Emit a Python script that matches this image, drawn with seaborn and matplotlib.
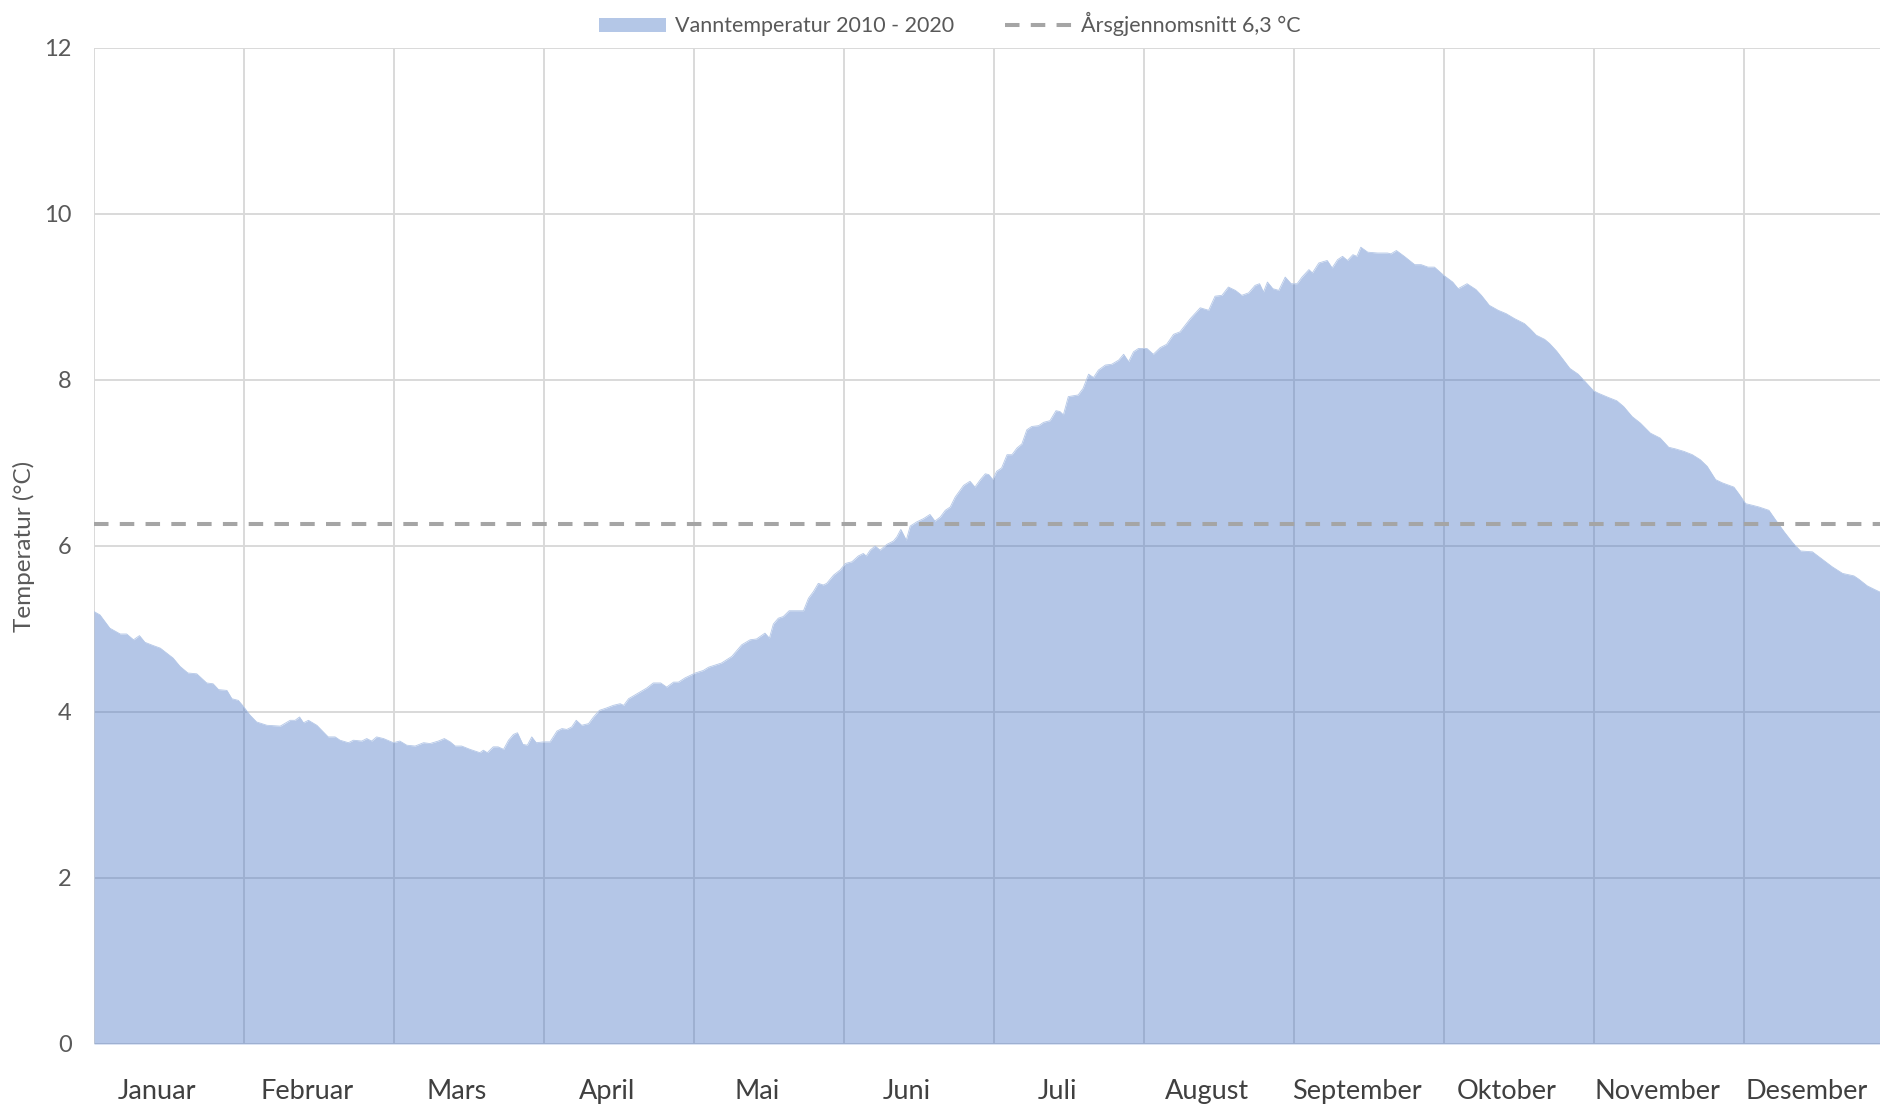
import matplotlib
matplotlib.use("Agg")
import matplotlib.pyplot as plt
import seaborn as sns
import numpy as np
from matplotlib.patches import Patch
from matplotlib.lines import Line2D

# data (day of year, mean water temperature)
days = [0, 1.2, 3.2, 5.3, 6.6, 8.0, 9.2, 10.3, 12.0, 13.4, 14.7, 16.0, 17.4, 19.0, 20.8,
        22.8, 24.1, 25.2, 26.9, 27.9, 29.2, 30.2, 31.6, 32.9, 35.0, 37.7, 39.7, 40.7, 41.6,
        42.4, 43.4, 45.1, 46.4, 47.4, 48.8, 49.8, 51.5, 52.5, 54.2, 55.2, 56.2, 57.2, 58.6,
        60.6, 61.9, 63.3, 65.0, 66.7, 68.0, 69.7, 70.9, 72.1, 73.1, 74.4, 76.1, 78.1, 78.8,
        79.6, 80.8, 81.8, 82.9, 83.9, 84.9, 85.7, 86.8, 87.7, 88.6, 89.5, 91.0, 92.3, 93.7,
        94.7, 95.7, 96.7, 97.6, 98.7, 100.1, 101.1, 102.3, 103.8, 105.1, 106.5, 107.2, 108.2,
        110.2, 111.9, 113.2, 114.7, 115.9, 117.3, 118.3, 119.6, 121.7, 123.3, 124.4, 127.0,
        129.1, 131.1, 132.8, 134.1, 135.8, 136.7, 137.5, 138.5, 139.5, 140.7, 143.6, 144.6,
        145.6, 146.6, 147.6, 148.3, 149.7, 151.0, 152.1, 153.4, 154.7, 155.7, 156.3, 157.1,
        158.1, 159.1, 160.5, 161.8, 162.5, 163.3, 164.4, 165.2, 166.5, 167.9, 169.2, 170.2,
        171.3, 172.3, 173.3, 174.3, 176.0, 177.3, 178.3, 179.4, 180.4, 181.1, 181.9, 182.7,
        183.7, 184.8, 185.8, 186.8, 187.8, 188.8, 189.8, 191.2, 192.2, 193.5, 194.7, 195.5,
        196.2, 197.2, 199.2, 200.2, 201.3, 202.3, 203.3, 204.7, 206.0, 207.4, 208.4, 209.4,
        210.4, 211.4, 213.1, 214.4, 215.8, 217.1, 218.5, 219.8, 221.9, 223.9, 225.6, 226.9,
        228.3, 229.6, 231.0, 232.3, 233.7, 235.0, 235.9, 236.7, 237.5, 238.6, 239.8, 241.1,
        242.3, 243.5, 244.5, 245.9, 246.6, 247.9, 249.6, 250.6, 251.7, 252.7, 253.7, 254.8,
        255.6, 256.4, 257.8, 259.8, 261.8, 262.5, 263.6, 265.2, 267.3, 268.6, 270.0, 271.3,
        273.2, 275.0, 276.1, 277.9, 279.7, 280.8, 282.4, 284.2, 285.8, 287.5, 289.5, 290.6,
        291.9, 293.6, 294.6, 296.0, 297.3, 298.7, 300.4, 301.8, 303.5, 304.5, 306.5, 308.2,
        309.6, 311.3, 313.0, 315.0, 317.0, 318.7, 320.1, 321.8, 323.5, 325.1, 326.5, 328.2,
        329.6, 331.9, 332.9, 334.3, 335.7, 337.0, 339.0, 340.4, 342.1, 343.8, 345.4, 347.8,
        349.8, 351.8, 353.9, 356.2, 357.2, 358.9, 360.6, 362.4]
temps = [5.21, 5.17, 5.01, 4.94, 4.94, 4.87, 4.92, 4.84, 4.80, 4.77, 4.71, 4.65, 4.55, 4.47, 4.46,
         4.35, 4.34, 4.27, 4.26, 4.16, 4.14, 4.07, 3.96, 3.88, 3.84, 3.83, 3.90, 3.90, 3.94,
         3.87, 3.90, 3.84, 3.76, 3.70, 3.70, 3.66, 3.63, 3.66, 3.65, 3.68, 3.65, 3.70, 3.68,
         3.63, 3.65, 3.60, 3.59, 3.63, 3.62, 3.65, 3.68, 3.64, 3.59, 3.59, 3.55, 3.51, 3.54,
         3.51, 3.58, 3.58, 3.55, 3.66, 3.73, 3.75, 3.61, 3.60, 3.70, 3.63, 3.64, 3.64, 3.77,
         3.80, 3.79, 3.82, 3.90, 3.84, 3.86, 3.94, 4.02, 4.05, 4.08, 4.10, 4.08, 4.16,
         4.23, 4.29, 4.35, 4.35, 4.30, 4.36, 4.36, 4.41, 4.47, 4.50, 4.54, 4.59,
         4.67, 4.81, 4.87, 4.88, 4.95, 4.89, 5.06, 5.13, 5.15, 5.22, 5.22, 5.37,
         5.45, 5.55, 5.53, 5.55, 5.65, 5.71, 5.79, 5.81, 5.88, 5.91, 5.88, 5.95,
         6.00, 5.95, 6.02, 6.06, 6.11, 6.20, 6.07, 6.24, 6.29, 6.33, 6.38, 6.30,
         6.35, 6.43, 6.47, 6.59, 6.73, 6.78, 6.71, 6.80, 6.87, 6.86, 6.80, 6.90,
         6.94, 7.10, 7.10, 7.18, 7.23, 7.40, 7.44, 7.45, 7.49, 7.51, 7.63, 7.62,
         7.58, 7.80, 7.82, 7.90, 8.07, 8.03, 8.12, 8.18, 8.19, 8.24, 8.31, 8.22,
         8.34, 8.38, 8.38, 8.31, 8.39, 8.43, 8.55, 8.58, 8.74, 8.87, 8.84, 9.01,
         9.02, 9.12, 9.08, 9.02, 9.05, 9.14, 9.16, 9.06, 9.18, 9.10, 9.08, 9.24,
         9.16, 9.16, 9.24, 9.33, 9.29, 9.41, 9.44, 9.35, 9.45, 9.49, 9.44, 9.51,
         9.49, 9.60, 9.54, 9.53, 9.53, 9.52, 9.56, 9.49, 9.39, 9.39, 9.36, 9.36,
         9.26, 9.18, 9.10, 9.16, 9.09, 9.02, 8.90, 8.84, 8.80, 8.74, 8.68, 8.62,
         8.54, 8.49, 8.44, 8.35, 8.25, 8.14, 8.07, 7.98, 7.87, 7.84, 7.79, 7.75,
         7.68, 7.56, 7.48, 7.36, 7.30, 7.19, 7.17, 7.14, 7.10, 7.04, 6.96, 6.80,
         6.76, 6.71, 6.63, 6.51, 6.49, 6.47, 6.43, 6.31, 6.17, 6.04, 5.94, 5.93,
         5.84, 5.75, 5.67, 5.64, 5.60, 5.52, 5.47, 5.42]

months = ["Januar", "Februar", "Mars", "April", "Mai", "Juni", "Juli", "August",
          "September", "Oktober", "November", "Desember"]
annual_mean = 6.26
series_label = "Vanntemperatur 2010 - 2020"
mean_label = "Årsgjennomsnitt 6,3 °C"

sns.set_theme(style="white")
plt.rcParams['font.family'] = ['Lato', 'DejaVu Sans']

fig = plt.figure(figsize=(18.81, 11.08), dpi=100)
ax = fig.add_axes([94 / 1881, 1 - 1044 / 1108, (1881 - 94) / 1881, (1044 - 48) / 1108])

month_len = 30.36  # one month on the axis, in days
ax.fill_between(days, temps, 0, color="#4472C4", alpha=0.4, linewidth=0, zorder=2)
sns.lineplot(x=days, y=temps, ax=ax, color="#B4C7E7", linewidth=0.6, zorder=2)
ax.axhline(annual_mean, color="#A5A5A5", linewidth=2.9, dashes=(3.6, 2.8), zorder=3)

ax.set_xticks([i * month_len for i in range(12)])
ax.set_xticklabels([])
ax.set_xticks([(i + 0.42) * month_len for i in range(12)], minor=True)
ax.set_xticklabels(months, minor=True, fontsize=19.5, color="#404040")
ax.set_yticks(range(0, 13, 2))
ax.set_yticklabels([str(v) for v in range(0, 13, 2)], fontsize=17, color="#595959")
ax.tick_params(axis="x", which="both", length=0, pad=25)
ax.tick_params(axis="y", length=0, pad=16)
ax.set_xlim(0, 1787 / 150 * month_len)
ax.set_ylim(0, 12)

ax.grid(True, which="major", color="#D9D9D9", linewidth=1.4)
ax.set_axisbelow(True)
for s in ax.spines.values():
    s.set_visible(False)

ax.set_ylabel("Temperatur (°C)", fontsize=17.5, color="#595959")
ax.yaxis.set_label_coords(-0.033, 0.5)
ax.set_xlabel("")

handles = [Patch(facecolor="#B4C7E7", edgecolor="none"),
           Line2D([0], [0], color="#A5A5A5", linewidth=2.9, dashes=(3.6, 2.8))]
fig.legend(handles, [series_label, mean_label], loc="center", bbox_to_anchor=(0.505, 0.978),
           ncol=2, frameon=False, fontsize=15.5, labelcolor="#595959",
           handlelength=3.1, handleheight=0.65, handletextpad=0.4, columnspacing=2.4)

fig.savefig("out.png", dpi=100)
